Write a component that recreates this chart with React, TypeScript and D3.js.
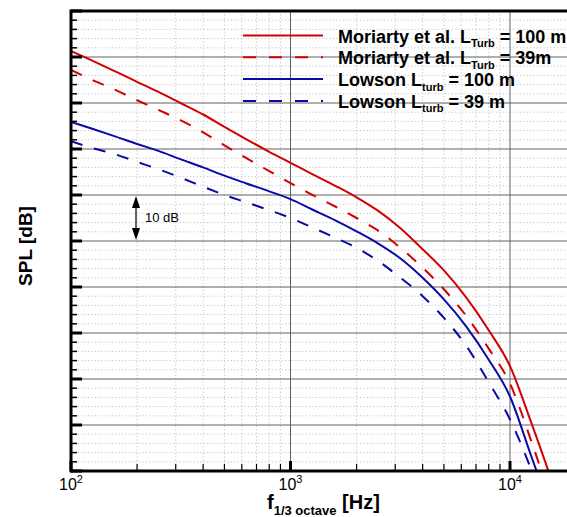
import React from "react";
import * as d3 from "d3";

// 1/3-octave centre frequencies [Hz]
const freqs = [100, 125, 160, 200, 250, 315, 400, 500, 630, 800, 1000, 1250, 1600, 2000, 2500, 3150, 4000, 5000, 6300, 8000, 10000, 12500, 16000];

// SPL (relative dB, 10 dB per major grid division)
const moriarty100 = [91.3, 89.2, 86.8, 84.6, 82.4, 80.0, 77.5, 74.8, 72.1, 69.4, 67.0, 64.6, 62.0, 59.5, 56.6, 52.9, 48.2, 43.6, 37.8, 30.6, 22.8, 10.5, -4];
const moriarty39 = [87.2, 85.0, 82.8, 80.6, 78.5, 76.3, 73.6, 70.8, 68.0, 65.2, 62.6, 60.1, 57.5, 55.0, 52.3, 48.6, 44.2, 39.5, 33.8, 26.6, 19.0, 6.5, -9];
const lowson100 = [75.9, 74.4, 72.7, 71.1, 69.6, 67.8, 66.0, 64.2, 62.5, 60.8, 59.1, 56.9, 54.5, 52.1, 49.5, 46.3, 42.0, 37.3, 31.5, 24.2, 16.2, 3.2, -11];
const lowson39 = [71.7, 70.2, 68.8, 67.2, 65.6, 63.8, 61.8, 60.0, 58.4, 56.7, 55.0, 53.0, 50.7, 48.5, 45.7, 42.1, 38.0, 33.3, 27.3, 19.3, 11.2, 0.3, -14];

const seriesNames = ["Moriarty et al. L", "Moriarty et al. L", "Lowson L", "Lowson L"];
const seriesSubs = ["Turb", "Turb", "turb", "turb"];
const seriesTails = [" = 100 m", " = 39m", " = 100 m", " = 39 m"];
const seriesValues = [moriarty100, moriarty39, lowson100, lowson39];
const seriesColors = ["#d40000", "#d40000", "#0a0aa8", "#0a0aa8"];
const seriesDashed = [false, true, false, true];

const xMajor = [100, 1000, 10000];
const xMajorExp = ["2", "3", "4"];

const W = 567;
const H = 517;
const L = 71;
const T = 11;
const B = 471;
const R = 600;

export default function App() {
  const x = d3.scaleLog().domain([100, 10000]).range([L, 510]);
  const y = d3.scaleLinear().domain([0, 100]).range([B, T]);

  const line = d3
    .line<number>()
    .x((_, i) => x(freqs[i]))
    .y((d) => y(d))
    .curve(d3.curveMonotoneX);

  const yMinor = d3.range(0, 101, 2).filter((v) => v % 10 !== 0);
  const yMajor = d3.range(0, 101, 10);
  const xMinor: number[] = [];
  [100, 1000, 10000].forEach((dec) => {
    for (let k = 2; k <= 9; k++) xMinor.push(dec * k);
  });

  const font = "'Liberation Sans', Arial, Helvetica, sans-serif";

  return (
    <svg width={W} height={H} style={{ position: "absolute", left: 0, top: 0, background: "#fff" }} fontFamily={font}>
      <defs>
        <clipPath id="plot">
          <rect x={L} y={T} width={R - L} height={B - T} />
        </clipPath>
      </defs>
      <rect x={0} y={0} width={W} height={H} fill="#fff" />
      {/* minor grid */}
      <g stroke="#c4c4c4" strokeWidth={1} strokeDasharray="1.2,2.2">
        {yMinor.map((v) => (
          <line key={"hm" + v} x1={L} x2={R} y1={y(v)} y2={y(v)} />
        ))}
        {xMinor.map((f) => (
          <line key={"vm" + f} x1={x(f)} x2={x(f)} y1={T} y2={B} />
        ))}
      </g>
      {/* major grid */}
      <g stroke="#606060" strokeWidth={1}>
        {yMajor.slice(1, -1).map((v) => (
          <line key={"hM" + v} x1={L} x2={R} y1={y(v)} y2={y(v)} />
        ))}
        {xMajor.slice(1).map((f) => (
          <line key={"vM" + f} x1={x(f)} x2={x(f)} y1={T} y2={B} />
        ))}
      </g>
      {/* curves */}
      <g clipPath="url(#plot)" fill="none">
        {seriesValues.map((vals, i) => (
          <path
            key={"s" + i}
            d={line(vals) || ""}
            stroke={seriesColors[i]}
            strokeWidth={2}
            strokeDasharray={seriesDashed[i] ? "12,12" : undefined}
          />
        ))}
      </g>
      {/* axes frame */}
      <g stroke="#000">
        <line x1={L} x2={L} y1={T - 1.5} y2={B + 1.5} strokeWidth={3} />
        <line x1={L} x2={R} y1={T} y2={T} strokeWidth={3} />
        <line x1={L} x2={R} y1={B} y2={B} strokeWidth={3} />
        {yMajor.map((v) => (
          <line key={"ytM" + v} x1={L} x2={L + 11} y1={y(v)} y2={y(v)} strokeWidth={3} />
        ))}
        {yMinor.map((v) => (
          <line key={"ytm" + v} x1={L} x2={L + 6} y1={y(v)} y2={y(v)} strokeWidth={1.5} />
        ))}
        {xMajor.map((f) => (
          <line key={"xtM" + f} x1={x(f)} x2={x(f)} y1={B} y2={B - 10} strokeWidth={3} />
        ))}
        {xMinor.map((f) => (
          <line key={"xtm" + f} x1={x(f)} x2={x(f)} y1={B} y2={B - 7} strokeWidth={1.2} />
        ))}
      </g>
      {/* x tick labels */}
      {xMajor.map((f, i) => (
        <text key={"xl" + f} x={x(f)} y={490} fontSize={16} textAnchor="middle" fill="#000">
          10
          <tspan fontSize={11} dy={-7}>
            {xMajorExp[i]}
          </tspan>
        </text>
      ))}
      {/* axis titles */}
      <text x={267} y={509} fontSize={20} fontWeight="bold" fill="#000">
        f
        <tspan fontSize={13} dy={6}>
          1/3 octave
        </tspan>
        <tspan fontSize={20} dy={-6}>
          {" [Hz]"}
        </tspan>
      </text>
      <text
        transform="translate(32,246) rotate(-90)"
        fontSize={19}
        fontWeight="bold"
        textAnchor="middle"
        fill="#000"
      >
        SPL [dB]
      </text>
      {/* 10 dB annotation */}
      <g fill="#000" stroke="#000">
        <line x1={136} x2={136} y1={y(60) + 8} y2={y(50) - 8} strokeWidth={1.2} />
        <path d={`M136,${y(60) + 1} L132,${y(60) + 13} L140,${y(60) + 13} Z`} stroke="none" />
        <path d={`M136,${y(50) - 1} L132,${y(50) - 13} L140,${y(50) - 13} Z`} stroke="none" />
      </g>
      <text x={145} y={222} fontSize={13} fill="#000">
        10 dB
      </text>
      {/* legend */}
      {seriesNames.map((name, i) => {
        const by = 42.5 + i * 21.8;
        return (
          <g key={"lg" + i}>
            <line
              x1={243}
              x2={323}
              y1={by - 7}
              y2={by - 7}
              stroke={seriesColors[i]}
              strokeWidth={2}
              strokeDasharray={seriesDashed[i] ? "13,13" : undefined}
            />
            <text x={338} y={by} fontSize={18} fontWeight="bold" fill="#000">
              {name}
              <tspan fontSize={11} dy={4.5}>
                {seriesSubs[i]}
              </tspan>
              <tspan fontSize={18} dy={-4.5}>
                {seriesTails[i]}
              </tspan>
            </text>
          </g>
        );
      })}
    </svg>
  );
}
